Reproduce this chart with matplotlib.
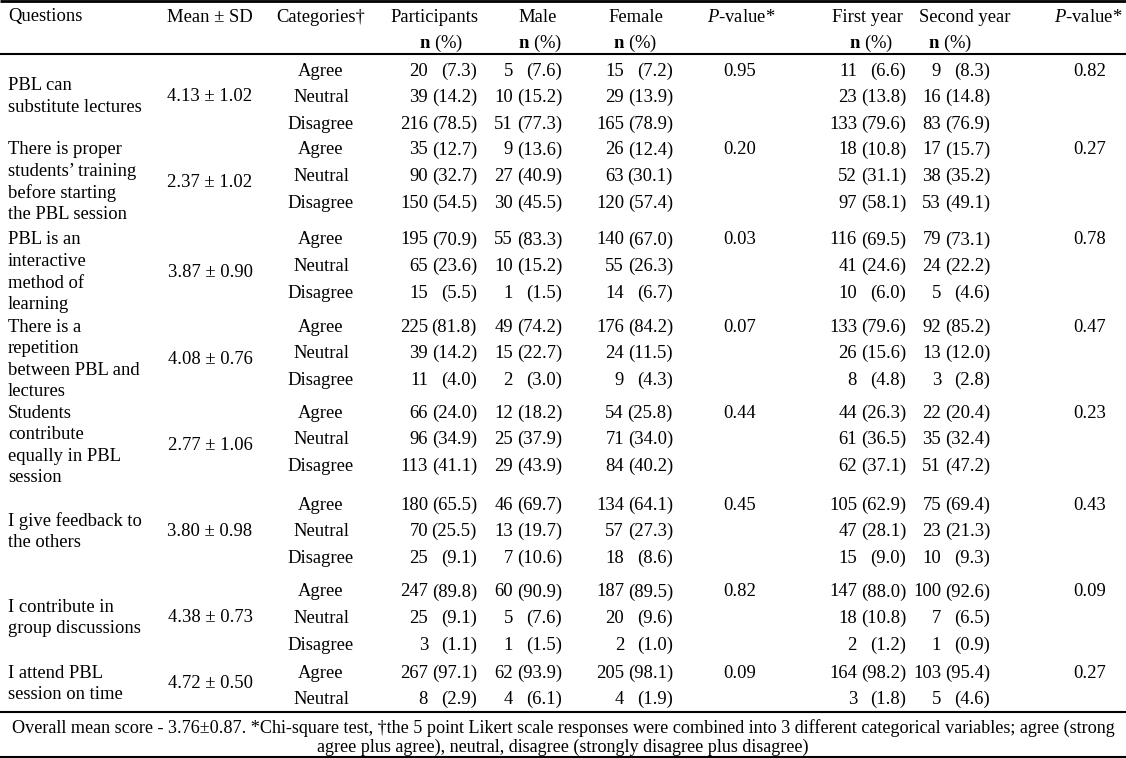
import matplotlib.pyplot as plt

plt.rcParams['font.family'] = ['Liberation Serif', 'DejaVu Serif']
plt.rcParams['mathtext.fontset'] = 'custom'
plt.rcParams['mathtext.rm'] = 'Liberation Serif'
plt.rcParams['mathtext.it'] = 'Liberation Serif:italic'
plt.rcParams['mathtext.bf'] = 'Liberation Serif:bold'

# ---- table data ----
questions = [
    ["PBL can", "substitute lectures"],
    ["There is proper", "students\u2019 training", "before starting", "the PBL session"],
    ["PBL is an", "interactive", "method of", "learning"],
    ["There is a", "repetition", "between PBL and", "lectures"],
    ["Students", "contribute", "equally in PBL", "session"],
    ["I give feedback to", "the others"],
    ["I contribute in", "group discussions"],
    ["I attend PBL", "session on time"],
]
mean_sd = ["4.13 \u00b1 1.02", "2.37 \u00b1 1.02", "3.87 \u00b1 0.90", "4.08 \u00b1 0.76",
           "2.77 \u00b1 1.06", "3.80 \u00b1 0.98", "4.38 \u00b1 0.73", "4.72 \u00b1 0.50"]
categories = [["Agree", "Neutral", "Disagree"]] * 7 + [["Agree", "Neutral"]]

part_n = [[20, 39, 216], [35, 90, 150], [195, 65, 15], [225, 39, 11],
          [66, 96, 113], [180, 70, 25], [247, 25, 3], [267, 8]]
part_pct = [[7.3, 14.2, 78.5], [12.7, 32.7, 54.5], [70.9, 23.6, 5.5], [81.8, 14.2, 4.0],
            [24.0, 34.9, 41.1], [65.5, 25.5, 9.1], [89.8, 9.1, 1.1], [97.1, 2.9]]
male_n = [[5, 10, 51], [9, 27, 30], [55, 10, 1], [49, 15, 2],
          [12, 25, 29], [46, 13, 7], [60, 5, 1], [62, 4]]
male_pct = [[7.6, 15.2, 77.3], [13.6, 40.9, 45.5], [83.3, 15.2, 1.5], [74.2, 22.7, 3.0],
            [18.2, 37.9, 43.9], [69.7, 19.7, 10.6], [90.9, 7.6, 1.5], [93.9, 6.1]]
female_n = [[15, 29, 165], [26, 63, 120], [140, 55, 14], [176, 24, 9],
            [54, 71, 84], [134, 57, 18], [187, 20, 2], [205, 4]]
female_pct = [[7.2, 13.9, 78.9], [12.4, 30.1, 57.4], [67.0, 26.3, 6.7], [84.2, 11.5, 4.3],
              [25.8, 34.0, 40.2], [64.1, 27.3, 8.6], [89.5, 9.6, 1.0], [98.1, 1.9]]
p_gender = ["0.95", "0.20", "0.03", "0.07", "0.44", "0.45", "0.82", "0.09"]
first_n = [[11, 23, 133], [18, 52, 97], [116, 41, 10], [133, 26, 8],
           [44, 61, 62], [105, 47, 15], [147, 18, 2], [164, 3]]
first_pct = [[6.6, 13.8, 79.6], [10.8, 31.1, 58.1], [69.5, 24.6, 6.0], [79.6, 15.6, 4.8],
             [26.3, 36.5, 37.1], [62.9, 28.1, 9.0], [88.0, 10.8, 1.2], [98.2, 1.8]]
second_n = [[9, 16, 83], [17, 38, 53], [79, 24, 5], [92, 13, 3],
            [22, 35, 51], [75, 23, 10], [100, 7, 1], [103, 5]]
second_pct = [[8.3, 14.8, 76.9], [15.7, 35.2, 49.1], [73.1, 22.2, 4.6], [85.2, 12.0, 2.8],
              [20.4, 32.4, 47.2], [69.4, 21.3, 9.3], [92.6, 6.5, 0.9], [95.4, 4.6]]
p_year = ["0.82", "0.27", "0.78", "0.47", "0.23", "0.43", "0.09", "0.27"]

footnote = ["Overall mean score - 3.76\u00b10.87. *Chi-square test, \u2020the 5 point Likert scale "
            "responses were combined into 3 different categorical variables; agree (strong",
            "agree plus agree), neutral, disagree (strongly disagree plus disagree)"]

# ---- layout (pixel coordinates) ----
W, H = 1126, 758
fs = 13.4
cat_top = [69, 148, 238, 325, 411, 503, 590, 671]
q_top = [84, 148, 238, 325, 411, 519, 605, 671]
cat_step = 26.7
q_step = 21.6

fig = plt.figure(figsize=(W / 100, H / 100), dpi=100)
ax = fig.add_axes([0, 0, 1, 1])
ax.set_xlim(0, W)
ax.set_ylim(H, 0)
ax.axis('off')

def t(x, y, s, ha='center', **kw):
    ax.text(x, y, s, ha=ha, va='center_baseline', fontsize=kw.pop('fontsize', fs), **kw)

# header
hy1, hy2 = 15, 40
t(8, hy1, "Questions", ha='left')
t(210, hy1, "Mean \u00b1 SD")
t(321, hy1, "Categories\u2020")
t(434, hy1, "Participants")
t(538, hy1, "Male")
t(636, hy1, "Female")
t(741, hy1, r"$\mathit{P}$-value*")
t(867, hy1, "First year")
t(965, hy1, "Second year")
t(1088, hy1, r"$\mathit{P}$-value*")
for x in [441, 540, 635, 871, 950]:
    t(x, hy2, r"$\mathbf{n}$ (%)")

# column anchors: percent right edge, number sits gap px to its left
gap = 49
cols = [(part_n, part_pct, 477), (male_n, male_pct, 562),
        (female_n, female_pct, 673), (first_n, first_pct, 906),
        (second_n, second_pct, 990)]

for i in range(len(questions)):
    lines = questions[i]
    for j, s in enumerate(lines):
        t(8, q_top[i] + j * q_step, s, ha='left')
    ymid = q_top[i] + (len(lines) - 1) * q_step / 2
    t(210, ymid, mean_sd[i])
    for k, c in enumerate(categories[i]):
        y = cat_top[i] + k * cat_step
        t(321, y, c)
        for n_list, p_list, xp in cols:
            t(xp - gap, y, str(n_list[i][k]), ha='right')
            t(xp, y, f"({p_list[i][k]:.1f})", ha='right')
    t(740, cat_top[i], p_gender[i])
    t(1090, cat_top[i], p_year[i])

# rules
for y, lw in [(1, 2.0), (54, 1.5), (712, 1.5), (757, 1.5)]:
    ax.plot([0, W], [y, y], color='black', lw=lw, solid_capstyle='butt')

t(W / 2, 726, footnote[0], fontsize=13.1)
t(W / 2, 745, footnote[1], fontsize=13.1)

fig.savefig("out.png", dpi=100)
